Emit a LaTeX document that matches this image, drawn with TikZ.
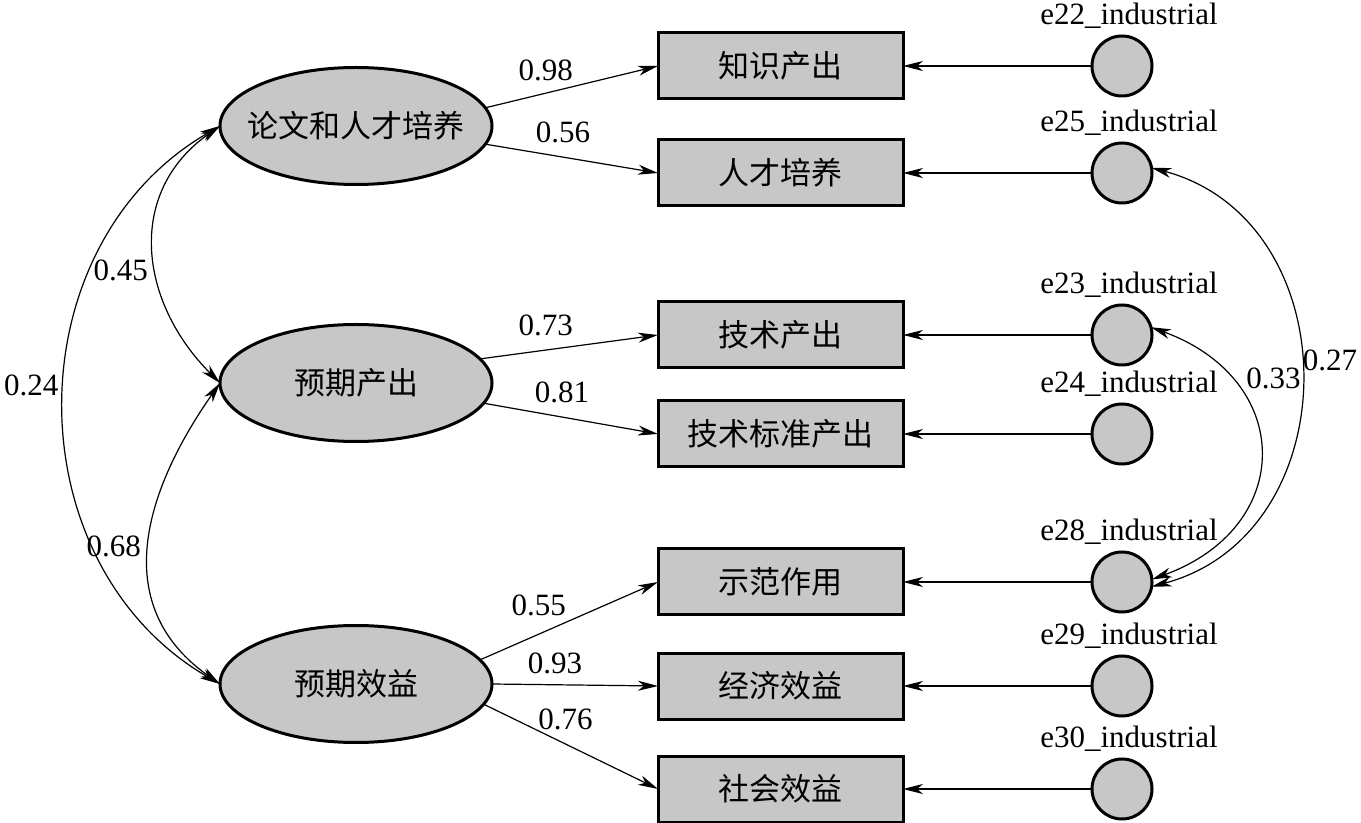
\documentclass[tikz,border=0pt]{standalone}
\usepackage{fontspec}
\setmainfont{Liberation Serif}
\newfontfamily\cjk{Noto Sans CJK SC}
\usetikzlibrary{arrows.meta,positioning,shapes.geometric}

\begin{document}
\begin{tikzpicture}[x=1pt, y=1pt, font=\fontsize{15.5}{18}\selectfont, line width=0.6pt,
  latent/.style={draw, ellipse, line width=1.5pt, fill=black!22, minimum width=136pt, minimum height=58.5pt, inner sep=0pt, inner xsep=-6.5pt, outer sep=0pt, font=\fontsize{15.5}{18}\selectfont\cjk},
  obs/.style={draw, rectangle, line width=1.5pt, fill=black!22, minimum width=122.5pt, minimum height=33pt, inner sep=0pt, outer sep=0pt, font=\fontsize{15.5}{18}\selectfont\cjk},
  err/.style={draw, circle, line width=1.5pt, fill=black!22, minimum size=30pt, inner sep=0pt, outer sep=0pt},
  every label/.style={xshift=3.5pt},
  coef/.style={inner sep=1pt},
  >={Stealth[length=10pt,width=5pt,inset=3pt]}]
  \useasboundingbox (0,0) rectangle (680.5,-411.5);

  % latent variables
  \node[latent] (lunwen) at (178,-63) {论文和人才培养};
  \node[latent, below=70pt of lunwen] (chanchu) {预期产出};
  \node[latent, below=92pt of chanchu] (xiaoyi) {预期效益};

  % observed indicators
  \node[obs] (zhishi) at (390.25,-33) {知识产出};
  \node[obs, below=20.5pt of zhishi] (rencai) {人才培养};
  \node[obs, below=48pt of rencai] (jishu) {技术产出};
  \node[obs, below=16.5pt of jishu] (biaozhun) {技术标准产出};
  \node[obs, below=41pt of biaozhun] (shifan) {示范作用};
  \node[obs, below=19pt of shifan] (jingji) {经济效益};
  \node[obs, below=18.5pt of jingji] (shehui) {社会效益};

  % error terms
  \node[err, right=94.5pt of zhishi, label=above:e22\_industrial] (e22) {};
  \node[err, right=94.5pt of rencai, label=above:e25\_industrial] (e25) {};
  \node[err, right=94.5pt of jishu, label=above:e23\_industrial] (e23) {};
  \node[err, right=94.5pt of biaozhun, label=above:e24\_industrial] (e24) {};
  \node[err, right=94.5pt of shifan, label=above:e28\_industrial] (e28) {};
  \node[err, right=94.5pt of jingji, label=above:e29\_industrial] (e29) {};
  \node[err, right=94.5pt of shehui, label=above:e30\_industrial] (e30) {};

  \draw[->] (e22) -- (zhishi);
  \draw[->] (e25) -- (rencai);
  \draw[->] (e23) -- (jishu);
  \draw[->] (e24) -- (biaozhun);
  \draw[->] (e28) -- (shifan);
  \draw[->] (e29) -- (jingji);
  \draw[->] (e30) -- (shehui);

  % loadings
  \draw[->] (lunwen.8) -- node[coef, pos=0.35, above=5pt] {0.98} (zhishi.west);
  \draw[->] (lunwen.-8) -- node[coef, pos=0.45, above=6pt] {0.56} (rencai.west);
  \draw[->] (chanchu.11) -- node[coef, pos=0.37, above=5.75pt] {0.73} (jishu.west);
  \draw[->] (chanchu.-9) -- node[coef, pos=0.45, above=6pt] {0.81} (biaozhun.west);
  \draw[->] (xiaoyi.11) -- node[coef, pos=0.33, above=7.75pt] {0.55} (shifan.west);
  \draw[->] (xiaoyi.0) -- node[coef, pos=0.38, above=4pt] {0.93} (jingji.west);
  \draw[->] (xiaoyi.-9) -- node[coef, pos=0.47, above=6pt] {0.76} (shehui.west);

  % covariances
  \draw[<->] (lunwen.west) to[out=215, in=135, looseness=1.15] node[coef, pos=0.58, left=3pt] {0.45} (chanchu.west);
  \draw[<->] (chanchu.west) to[out=235, in=145, looseness=1.15] node[coef, pos=0.5, left=3pt] {0.68} (xiaoyi.west);
  \draw[<->] (lunwen.west) to[out=210, in=150, looseness=1.1] node[coef, pos=0.47, left=2pt] {0.24} (xiaoyi.west);
  \draw[<->] (e25.10) to[out=-15, in=15, looseness=1.26] node[pos=0.47, right=1pt, inner sep=0pt] {0.27} (e28.-9);
  \draw[<->] (e23.15) to[out=-20, in=20, looseness=1.55] node[coef, pos=0.24, right=7pt] {0.33} (e28.5);
\end{tikzpicture}
\end{document}
